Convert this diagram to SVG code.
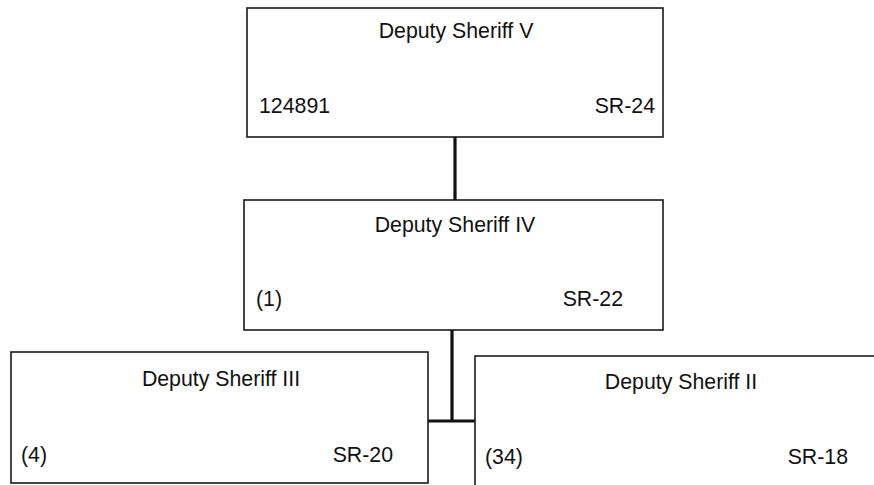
<svg xmlns="http://www.w3.org/2000/svg" width="874" height="485" viewBox="0 0 874 485">
<style>
.box{fill:#fff;stroke:#1a1a1a;stroke-width:1.6}
.t{font-family:"Liberation Sans",Arial,sans-serif;font-size:21.3px;fill:#111}
.c{text-anchor:middle}
.r{text-anchor:end}
.conn{stroke:#111;stroke-width:3.2;fill:none}
</style>
<rect width="874" height="485" fill="#fff"/>
<g id="connectors">
<line class="conn" x1="455" y1="137" x2="455" y2="201"/>
<line class="conn" x1="452" y1="330" x2="452" y2="421"/>
<line class="conn" x1="428" y1="421" x2="476" y2="421"/>
</g>
<g id="ds5">
<rect class="box" x="247" y="8" width="416" height="129"/>
<text class="t c" x="456" y="38">Deputy Sheriff V</text>
<text class="t" x="259" y="113">124891</text>
<text class="t r" x="655" y="113">SR-24</text>
</g>
<g id="ds4">
<rect class="box" x="244" y="200" width="419" height="130"/>
<text class="t c" x="455" y="232">Deputy Sheriff IV</text>
<text class="t" x="256" y="306">(1)</text>
<text class="t r" x="623" y="306">SR-22</text>
</g>
<g id="ds3">
<rect class="box" x="11" y="352" width="417" height="131"/>
<text class="t c" x="221" y="386">Deputy Sheriff III</text>
<text class="t" x="21" y="462">(4)</text>
<text class="t r" x="393" y="462">SR-20</text>
</g>
<g id="ds2">
<rect class="box" x="475" y="356" width="410" height="140"/>
<text class="t c" x="681" y="389">Deputy Sheriff II</text>
<text class="t" x="485" y="464">(34)</text>
<text class="t r" x="848" y="464">SR-18</text>
</g>
</svg>
